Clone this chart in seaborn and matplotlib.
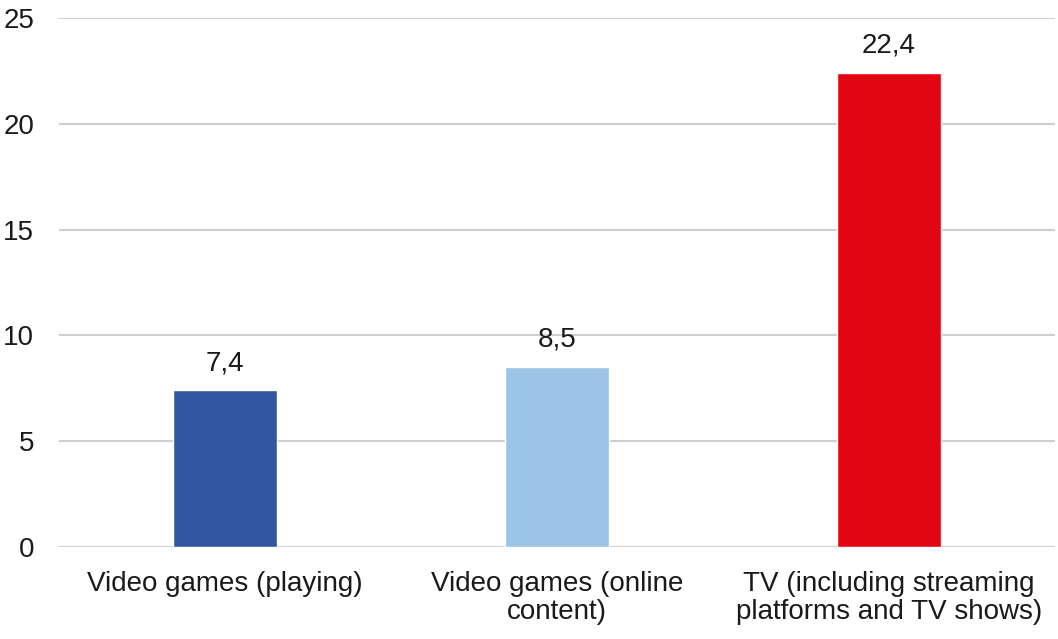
import matplotlib
matplotlib.use('Agg')
import matplotlib.pyplot as plt
import seaborn as sns
import pandas as pd

categories = ['Video games (playing)', 'Video games (online\ncontent)',
              'TV (including streaming\nplatforms and TV shows)']
values = [7.4, 8.5, 22.4]
colors = ['#3157A2', '#9DC3E6', '#E20613']
y_ticks = [0, 5, 10, 15, 20, 25]

sns.set_theme(style='white')
plt.rcParams['font.family'] = ['Liberation Sans', 'DejaVu Sans']

df = pd.DataFrame({'category': categories, 'value': values})

fig = plt.figure(figsize=(10.58, 6.39), dpi=100)
ax = fig.add_axes([0.0558, 0.144, 0.9412, 0.8278])
sns.barplot(data=df, x='category', y='value', hue='category', palette=colors,
            width=0.313, legend=False, ax=ax, saturation=1)

ax.set_ylim(0, 25)
ax.set_yticks(y_ticks)
ax.set_xlim(-0.5, 2.5)
ax.yaxis.grid(True, color='#cfcfcf', linewidth=1.5)
ax.set_axisbelow(True)
for s in ax.spines.values():
    s.set_visible(False)
ax.set_xlabel('')
ax.set_ylabel('')
ax.tick_params(axis='y', labelsize=20, labelcolor='#1a1a1a', length=0, pad=18)
ax.tick_params(axis='x', labelsize=20, labelcolor='#1a1a1a', length=0, pad=17)
for lbl in ax.get_xticklabels():
    lbl.set_linespacing(1.1)

for i, v in enumerate(values):
    ax.annotate(f'{v:.1f}'.replace('.', ','), (i, v), xytext=(0, 14.5),
                textcoords='offset points', ha='center', va='baseline',
                fontsize=20, color='#1a1a1a')

fig.savefig('out.png', dpi=100)
